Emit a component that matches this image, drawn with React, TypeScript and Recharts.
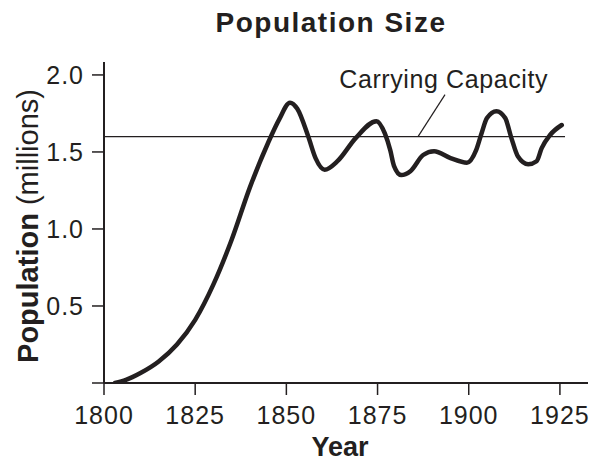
import React from "react";
import { LineChart, Line, XAxis, YAxis, ReferenceLine, ReferenceDot } from "recharts";

const years = [1803, 1806, 1810, 1815, 1820, 1825, 1830, 1835, 1840, 1845, 1848, 1851, 1853, 1856, 1858, 1860.5, 1864, 1869, 1874.7, 1877, 1878.5, 1879.5, 1881.5, 1884, 1887.5, 1890.5, 1895, 1899.5, 1902, 1903.5, 1905, 1907.6, 1910, 1911.7, 1913.5, 1916.3, 1918.6, 1920, 1922.3, 1925.5];
const population = [0, 0.02, 0.065, 0.14, 0.25, 0.41, 0.64, 0.93, 1.27, 1.56, 1.71, 1.82, 1.78, 1.6, 1.46, 1.385, 1.44, 1.59, 1.7, 1.62, 1.51, 1.41, 1.35, 1.375, 1.48, 1.505, 1.46, 1.43, 1.51, 1.62, 1.72, 1.765, 1.72, 1.59, 1.47, 1.42, 1.44, 1.525, 1.61, 1.675];
const xTicks = [1800, 1825, 1850, 1875, 1900, 1925];
const yTicks = [0, 0.5, 1.0, 1.5, 2.0];
const capacity = 1.6;
const capacityStart = 1800;
const capacityEnd = 1926.4;
const leaderStart = { x: 1886.1, y: 1.6 };
const leaderEnd = { x: 1893.5, y: 1.872 };
const capacityLabel = { x: 1864.5, y: 1.9175, text: "Carrying Capacity" };

const data = years.map((y, i) => ({ year: y, pop: population[i] }));

const INK = "#231f20";
const FONT = "'Liberation Sans', Arial, Helvetica, sans-serif";

export default function App() {
  return (
    <div style={{ position: "absolute", left: 0, top: 0, width: 589, height: 462, background: "#fff" }}>
      <LineChart width={589} height={462} data={data} margin={{ top: 62, right: 1, bottom: 0, left: 0 }}>
        <XAxis
          dataKey="year"
          type="number"
          domain={[1800, 1932.7]}
          ticks={xTicks}
          allowDataOverflow
          height={79}
          tickSize={12}
          tickMargin={11}
          axisLine={{ stroke: INK, strokeWidth: 2 }}
          tickLine={{ stroke: INK, strokeWidth: 1.5 }}
          tick={{ fontSize: 25, fill: INK, fontFamily: FONT, letterSpacing: 1 }}
        />
        <YAxis
          type="number"
          domain={[0, 2.084]}
          ticks={yTicks}
          allowDataOverflow
          width={104}
          tickSize={12}
          tickMargin={8}
          tickFormatter={(v: number) => (v === 0 ? "" : v.toFixed(1))}
          axisLine={{ stroke: INK, strokeWidth: 2 }}
          tickLine={{ stroke: INK, strokeWidth: 1.5 }}
          tick={{ fontSize: 25, fill: INK, fontFamily: FONT, letterSpacing: 1 }}
        />
        <ReferenceLine
          segment={[{ x: capacityStart, y: capacity }, { x: capacityEnd, y: capacity }]}
          stroke={INK}
          strokeWidth={1.3}
          ifOverflow="visible"
        />
        <ReferenceLine
          segment={[leaderStart, leaderEnd]}
          stroke={INK}
          strokeWidth={1.2}
          ifOverflow="visible"
        />
        <ReferenceDot
          x={capacityLabel.x}
          y={capacityLabel.y}
          r={0}
          fill="none"
          stroke="none"
          ifOverflow="visible"
          label={(props: any) => {
            const vb = props.viewBox || {};
            return (
              <text x={vb.x} y={vb.y} textAnchor="start" fontSize={25} fill={INK} fontFamily={FONT} letterSpacing={0.6}>
                {capacityLabel.text}
              </text>
            );
          }}
        />
        <Line
          type="monotone"
          dataKey="pop"
          stroke={INK}
          strokeWidth={4.5}
          dot={false}
          isAnimationActive={false}
          strokeLinecap="round"
        />
      </LineChart>
      <svg width={589} height={462} style={{ position: "absolute", left: 0, top: 0, pointerEvents: "none" }}>
        <text x={331} y={31.5} textAnchor="middle" fontSize={28} fontWeight="bold" fill={INK} fontFamily={FONT} letterSpacing={1.5}>
          Population Size
        </text>
        <text x={340} y={456} textAnchor="middle" fontSize={27} fontWeight="bold" fill={INK} fontFamily={FONT}>
          Year
        </text>
        <text x={37.5} y={226} transform="rotate(-90, 37.5, 226)" textAnchor="middle" fontSize={29} fill={INK} fontFamily={FONT}>
          <tspan fontWeight="bold">Population</tspan>
          <tspan> (millions)</tspan>
        </text>
      </svg>
    </div>
  );
}
